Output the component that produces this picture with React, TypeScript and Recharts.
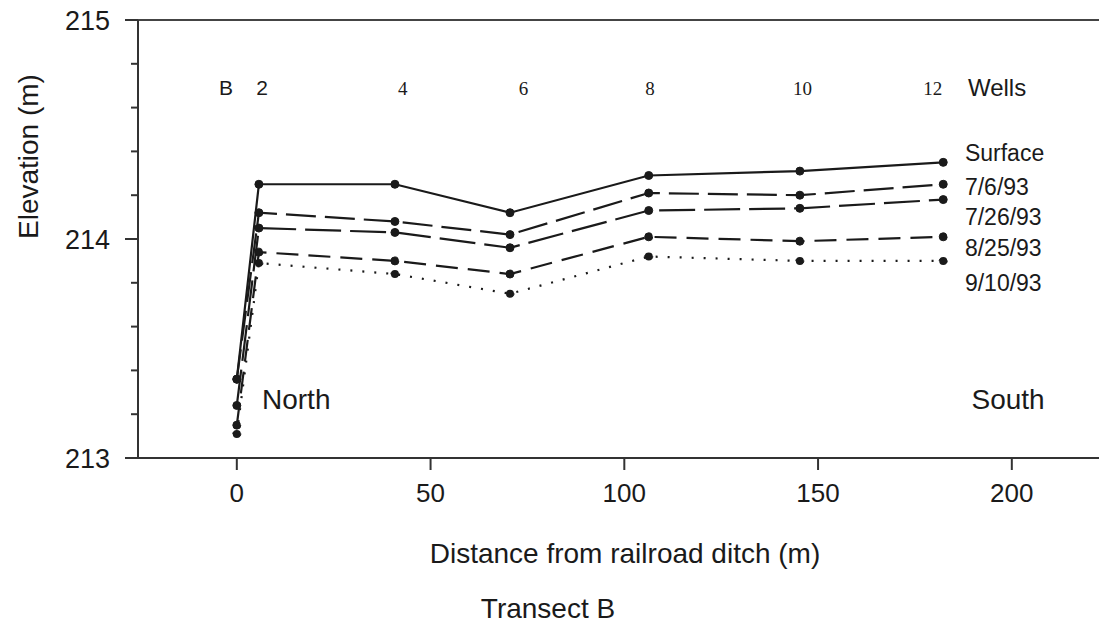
import { Label, Line, LineChart, ReferenceDot, ReferenceLine, XAxis, YAxis } from "recharts";

// distance of each well from the railroad ditch (m): B, 2, 4, 6, 8, 10, 12
const wellX = [0, 5.7, 40.8, 70.5, 106.3, 145.3, 182.3];
const surface = [213.36, 214.25, 214.25, 214.12, 214.29, 214.31, 214.35];
const jul6 = [213.36, 214.12, 214.08, 214.02, 214.21, 214.2, 214.25];
const jul26 = [213.24, 214.05, 214.03, 213.96, 214.13, 214.14, 214.18];
const aug25 = [213.15, 213.94, 213.9, 213.84, 214.01, 213.99, 214.01];
const sep10 = [213.11, 213.89, 213.84, 213.75, 213.92, 213.9, 213.9];

const yTicks = [213, 213.2, 213.4, 213.6, 213.8, 214, 214.2, 214.4, 214.6, 214.8, 215];
const xTicks = [0, 50, 100, 150, 200];

const wellLabels = ["B", "2", "4", "6", "8", "10", "12", "Wells"];
const wellLabelX = [-2.8, 6.5, 42.8, 74, 106.6, 146, 179.6, 196.2];
const wellLabelY = 214.69;

const seriesLabels = ["Surface", "7/6/93", "7/26/93", "8/25/93", "9/10/93"];
const seriesLabelY = [214.393, 214.237, 214.1, 213.959, 213.8];
const seriesLabelX = 187.9;

const rows = wellX.map((x, i) => ({
  x,
  surface: surface[i],
  jul6: jul6[i],
  jul26: jul26[i],
  aug25: aug25[i],
  sep10: sep10[i],
}));

const ink = "#1a1a1a";
const sans = "'Liberation Sans', Arial, sans-serif";
const serif = "'Liberation Serif', 'Times New Roman', serif";

const series = [
  { key: "surface", dash: undefined },
  { key: "jul6", dash: "30 9" },
  { key: "jul26", dash: "36 9" },
  { key: "aug25", dash: "22 10" },
  { key: "sep10", dash: "2 10" },
];

function YTick({ x, y, payload }: any) {
  const major = Number.isInteger(payload.value);
  return (
    <g>
      <line x1={x - (major ? 13 : 7)} x2={x} y1={y} y2={y} stroke="#333" strokeWidth={2} />
      {major && (
        <text x={x - 28} y={y} dy={9.5} textAnchor="end" fontSize={27} fontFamily={sans} fill={ink}>
          {payload.value}
        </text>
      )}
    </g>
  );
}

function XTick({ x, y, payload }: any) {
  return (
    <g>
      <line x1={x} x2={x} y1={y} y2={y + 12} stroke="#333" strokeWidth={2} />
      <text x={x} y={y + 44} textAnchor="middle" fontSize={26} fontFamily={sans} fill={ink}>
        {payload.value}
      </text>
    </g>
  );
}

export default function App() {
  return (
    <div style={{ position: "fixed", left: 0, top: 0, background: "#fff" }}>
      <LineChart width={1099} height={627} data={rows} margin={{ top: 20, right: 0, bottom: 0, left: 0 }}>
        <XAxis
          dataKey="x"
          type="number"
          domain={[-25.5, 222.5]}
          allowDataOverflow
          ticks={xTicks}
          tick={<XTick />}
          tickLine={false}
          tickSize={0}
          tickMargin={0}
          height={169}
          axisLine={{ stroke: "#333", strokeWidth: 2 }}
        >
          <Label
            content={({ viewBox }: any) => (
              <text x={viewBox.x + 487} y={viewBox.y + 105} textAnchor="middle" fontSize={28} fontFamily={sans} fill={ink}>
                Distance from railroad ditch (m)
              </text>
            )}
          />
          <Label
            content={({ viewBox }: any) => (
              <text x={viewBox.x + 410} y={viewBox.y + 160} textAnchor="middle" fontSize={28} fontFamily={sans} fill={ink}>
                Transect B
              </text>
            )}
          />
        </XAxis>
        <YAxis
          type="number"
          domain={[213, 215]}
          ticks={yTicks}
          tick={<YTick />}
          tickLine={false}
          tickSize={0}
          tickMargin={0}
          width={138}
          interval={0}
          axisLine={{ stroke: "#333", strokeWidth: 2 }}
        >
          <Label value="Elevation (m)" angle={-90} position="insideLeft" offset={28} fontSize={28} fontFamily={sans} fill={ink} />
        </YAxis>
        <ReferenceLine y={215} stroke="#444" strokeWidth={2} />
        {series.map((s) => (
          <Line
            key={s.key}
            dataKey={s.key}
            type="linear"
            stroke={ink}
            strokeWidth={2.2}
            strokeDasharray={s.dash}
            dot={{ r: 4, fill: ink, stroke: ink, strokeWidth: 1 }}
            isAnimationActive={false}
          />
        ))}
        {wellLabels.map((w, i) => {
          const isSans = i <= 1 || i === 7;
          return (
            <ReferenceDot
              key={w}
              x={wellLabelX[i]}
              y={wellLabelY}
              r={0}
              stroke="none"
              label={{
                value: w,
                position: "center",
                fontSize: i === 7 ? 24 : isSans ? 21 : 19,
                fontFamily: isSans ? sans : serif,
                fill: ink,
              }}
            />
          );
        })}
        {seriesLabels.map((s, i) => (
          <ReferenceDot
            key={s}
            x={seriesLabelX}
            y={seriesLabelY[i]}
            r={0}
            stroke="none"
            label={{ value: s, position: "right", offset: 0, fontSize: 23, fontFamily: sans, fill: ink }}
          />
        ))}
        <ReferenceDot x={6.5} y={213.27} r={0} stroke="none" label={{ value: "North", position: "right", offset: 0, fontSize: 28, fontFamily: sans, fill: ink }} />
        <ReferenceDot x={189.6} y={213.27} r={0} stroke="none" label={{ value: "South", position: "right", offset: 0, fontSize: 28, fontFamily: sans, fill: ink }} />
      </LineChart>
    </div>
  );
}
